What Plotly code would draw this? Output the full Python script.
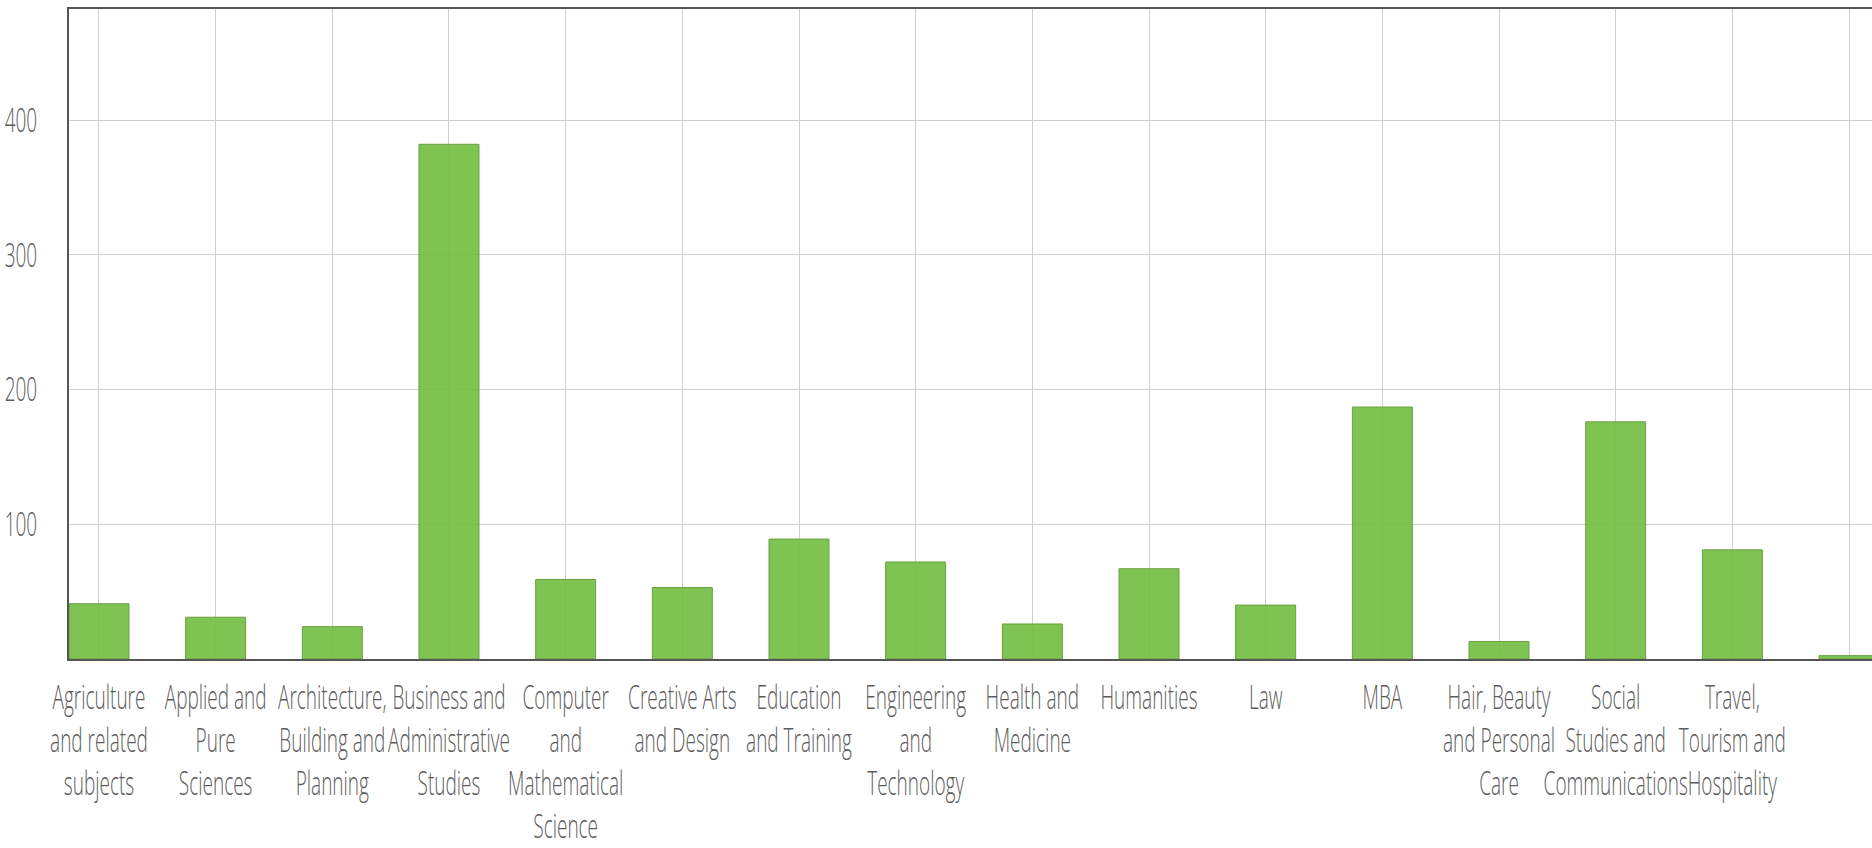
import plotly.graph_objects as go

# ---- data ----
categories = [
    "Agriculture and related subjects", "Applied and Pure Sciences",
    "Architecture, Building and Planning", "Business and Administrative Studies",
    "Computer and Mathematical Science", "Creative Arts and Design",
    "Education and Training", "Engineering and Technology",
    "Health and Medicine", "Humanities", "Law", "MBA",
    "Hair, Beauty and Personal Care", "Social Studies and Communications",
    "Travel, Tourism and Hospitality", " ",
]
tick_labels = [
    "Agriculture<br>and related<br>subjects", "Applied and<br>Pure<br>Sciences",
    "Architecture,<br>Building and<br>Planning", "Business and<br>Administrative<br>Studies",
    "Computer<br>and<br>Mathematical<br>Science", "Creative Arts<br>and Design",
    "Education<br>and Training", "Engineering<br>and<br>Technology",
    "Health and<br>Medicine", "Humanities", "Law", "MBA",
    "Hair, Beauty<br>and Personal<br>Care", "Social<br>Studies and<br>Communications",
    "Travel,<br>Tourism and<br>Hospitality", " ",
]
values = [41, 31, 24, 382, 59, 53, 89, 72, 26, 67, 40, 187, 13, 176, 81, 2.5]
y_ticks = [100, 200, 300, 400]

FONT = "Open Sans, DejaVu Sans, sans-serif"
TXT = "#5c5c5c"

fig = go.Figure(
    go.Bar(
        x=categories,
        y=values,
        width=0.514,
        marker=dict(color="rgba(113,188,63,0.9)",
                    line=dict(color="rgba(104,160,66,1)", width=1)),
        hoverinfo="x+y",
    )
)

fig.update_layout(
    width=1872,
    height=848,
    margin=dict(l=69, r=0, t=9, b=189, pad=0),
    paper_bgcolor="white",
    plot_bgcolor="white",
    showlegend=False,
    font=dict(family=FONT, size=19, color=TXT),
)

fig.update_xaxes(
    type="category",
    categoryorder="array",
    categoryarray=categories,
    tickvals=categories,
    ticktext=tick_labels,
    range=[-0.257, 15.197],
    tickangle=0,
    ticks="",
    showgrid=True,
    gridcolor="#d0d0d0",
    gridwidth=1,
    showline=True,
    linecolor="#555555",
    linewidth=2,
    mirror=True,
    ticklabelstandoff=10,
    tickfont=dict(family=FONT, size=19, color=TXT, weight=300),
)

fig.update_yaxes(
    range=[0, 482.4],
    tickvals=y_ticks,
    ticks="",
    showgrid=True,
    gridcolor="#d0d0d0",
    gridwidth=1,
    zeroline=False,
    showline=True,
    linecolor="#555555",
    linewidth=2,
    ticklabelstandoff=26,
    tickfont=dict(family=FONT, size=19, color=TXT, weight=300),
)

post_js = """
var gd = document.getElementById('{plot_id}');
var K = 1.74;
function stretch(sel, mode) {
  gd.querySelectorAll(sel).forEach(function (el) {
    var bb = el.getBBox();
    var cy = (mode === 'top') ? bb.y : bb.y + bb.height / 2;
    var t = el.getAttribute('transform') || '';
    el.setAttribute('transform', t + ' translate(0,' + cy + ') scale(1,' + K + ') translate(0,' + (-cy) + ')');
  });
}
stretch('.xtick text', 'top');
stretch('.ytick text', 'mid');
"""

fig.write_html("out.html", post_script=post_js)
